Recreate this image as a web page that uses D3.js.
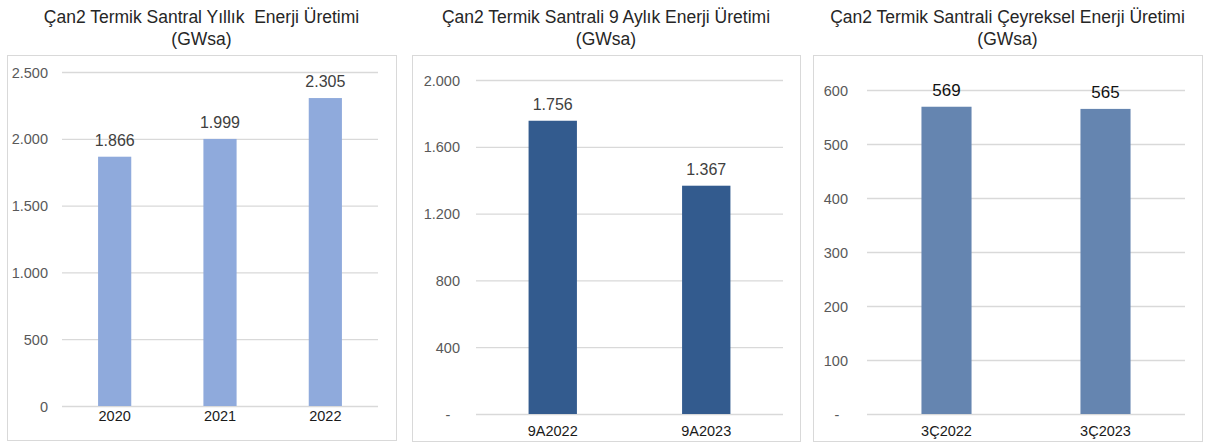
<!DOCTYPE html>
<html>
<head>
<meta charset="utf-8">
<script src="https://cdn.jsdelivr.net/npm/d3@7"></script>
<style>
  html, body { margin: 0; padding: 0; background: #fff; }
  svg { display: block; font-family: "Liberation Sans", Arial, sans-serif; }
</style>
</head>
<body>
<svg id="chart" width="1207" height="447"></svg>
<script>
// --- data ---
const yearCats = ['2020', '2021', '2022'];
const yearVals = [1866, 1999, 2305];
const yearTicks = [0, 500, 1000, 1500, 2000, 2500];

const nineCats = ['9A2022', '9A2023'];
const nineVals = [1756, 1367];
const nineTicks = [0, 400, 800, 1200, 1600, 2000];

const quarterCats = ['3Ç2022', '3Ç2023'];
const quarterVals = [569, 565];
const quarterTicks = [0, 100, 200, 300, 400, 500, 600];

const titles = [
  ['Çan2 Termik Santral Yıllık  Enerji Üretimi', '(GWsa)'],
  ['Çan2 Termik Santrali 9 Aylık Enerji Üretimi', '(GWsa)'],
  ['Çan2 Termik Santrali Çeyreksel Enerji Üretimi', '(GWsa)']
];

const tr = d3.formatLocale({ decimal: ',', thousands: '.', grouping: [3], currency: ['', ''] });
const fmt = tr.format(',d');

const svg = d3.select('#chart');

function drawPanel(o) {
  const g = svg.append('g');

  // panel frame
  g.append('rect')
    .attr('x', o.box[0] + 0.5).attr('y', o.box[1] + 0.5)
    .attr('width', o.box[2] - o.box[0]).attr('height', o.box[3] - o.box[1])
    .attr('fill', '#fff').attr('stroke', '#d9d9d9');

  // title
  const cx = (o.box[0] + o.box[2]) / 2;
  o.title.forEach((t, i) => {
    g.append('text')
      .attr('x', cx).attr('y', 23 + i * 22)
      .attr('text-anchor', 'middle')
      .attr('fill', '#262626')
      .style('font-size', '17.5px')
      .style('white-space', 'pre')
      .text(t);
  });

  const x = d3.scaleBand().domain(o.cats)
    .range([o.left, o.right])
    .paddingInner(0.685).paddingOuter(0.3425);
  const y = d3.scaleLinear().domain([0, d3.max(o.ticks)]).range([o.y0, o.yTop]);

  // grid + y labels
  g.append('g')
    .attr('transform', `translate(${o.left},0)`)
    .call(d3.axisLeft(y).tickValues(o.ticks).tickSize(-(o.right - o.left)).tickPadding(o.tickGap)
      .tickFormat(d => d === 0 ? o.zero : fmt(d)))
    .call(sel => {
      sel.select('.domain').remove();
      sel.selectAll('line').attr('stroke', '#d9d9d9').attr('stroke-width', 1.3);
      sel.selectAll('text')
        .attr('fill', '#595959')
        .style('font-size', '14.5px')
        .attr('dy', '0.35em')
        .attr('font-family', '"Liberation Sans", Arial, sans-serif');
      if (o.zero === '-') {
        sel.selectAll('text').filter(d => d === 0)
          .attr('text-anchor', 'middle').attr('x', -o.dashOff);
      }
    });

  // bars
  g.selectAll('rect.bar')
    .data(o.vals)
    .join('rect')
    .attr('class', 'bar')
    .attr('x', (d, i) => x(o.cats[i]))
    .attr('width', x.bandwidth())
    .attr('y', d => y(d))
    .attr('height', d => o.y0 - y(d))
    .attr('fill', o.color);

  // value labels
  g.selectAll('text.val')
    .data(o.vals)
    .join('text')
    .attr('class', 'val')
    .attr('x', (d, i) => x(o.cats[i]) + x.bandwidth() / 2)
    .attr('y', d => y(d) - 11)
    .attr('text-anchor', 'middle')
    .attr('fill', o.valColor)
    .style('font-size', o.valSize)
    .text(d => fmt(d));

  // category axis
  g.append('g')
    .attr('transform', `translate(0,${o.y0})`)
    .call(d3.axisBottom(x).tickSize(0).tickPadding(o.catGap))
    .call(sel => {
      sel.select('.domain').remove();
      sel.selectAll('text')
        .attr('fill', '#1a1a1a')
        .style('font-size', '14.5px')
        .attr('font-family', '"Liberation Sans", Arial, sans-serif');
    });
}

drawPanel({
  box: [7, 55, 396, 440], title: titles[0],
  cats: yearCats, vals: yearVals, ticks: yearTicks,
  left: 62, right: 378, y0: 406, yTop: 72,
  tickGap: 14, zero: '0', dashOff: 0, catGap: 5,
  color: '#8faadc', valColor: '#404040', valSize: '16px'
});

drawPanel({
  box: [412, 55, 800, 441], title: titles[1],
  cats: nineCats, vals: nineVals, ticks: nineTicks,
  left: 476, right: 783, y0: 414, yTop: 80,
  tickGap: 16, zero: '-', dashOff: 28, catGap: 12,
  color: '#335b8e', valColor: '#404040', valSize: '16px'
});

drawPanel({
  box: [813, 55, 1202, 441], title: titles[2],
  cats: quarterCats, vals: quarterVals, ticks: quarterTicks,
  left: 867, right: 1185, y0: 414, yTop: 90,
  tickGap: 19, zero: '-', dashOff: 30, catGap: 12,
  color: '#6585b0', valColor: '#111', valSize: '17px'
});
</script>
</body>
</html>
